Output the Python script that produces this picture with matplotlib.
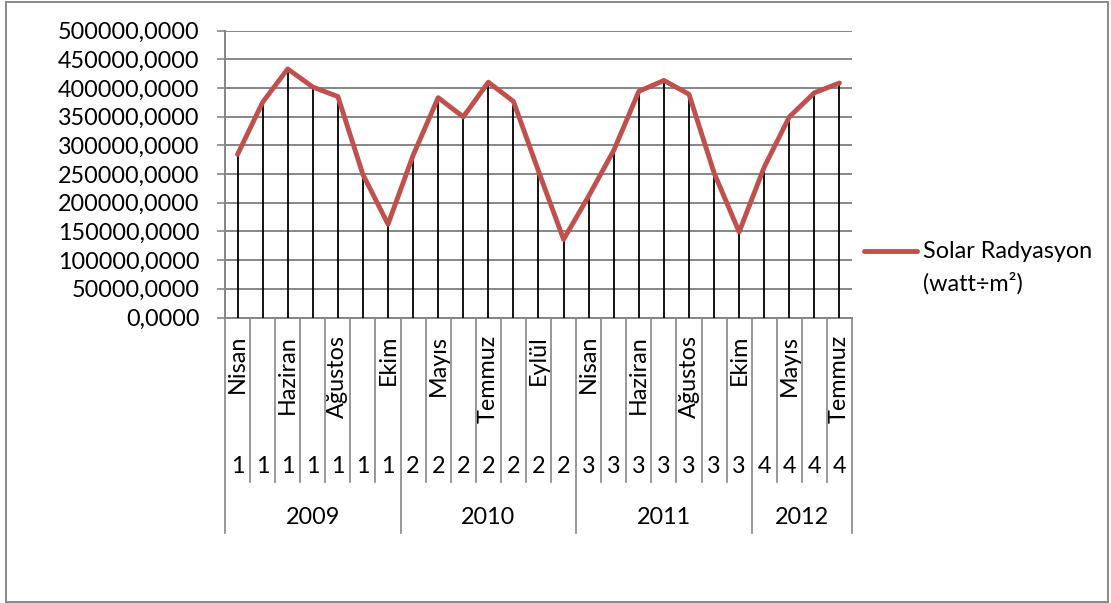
import matplotlib
matplotlib.use("Agg")
import matplotlib.pyplot as plt
from matplotlib.lines import Line2D
from matplotlib.patches import Rectangle
from matplotlib.transforms import blended_transform_factory

plt.rcParams['font.family'] = ['Lato', 'DejaVu Sans']

# Monthly solar radiation, April-October of each year
years = ["2009", "2010", "2011", "2012"]
year_codes = ["1", "2", "3", "4"]
months_per_year = [
    ["Nisan", "Mayıs", "Haziran", "Temmuz", "Ağustos", "Eylül", "Ekim"],
    ["Nisan", "Mayıs", "Haziran", "Temmuz", "Ağustos", "Eylül", "Ekim"],
    ["Nisan", "Mayıs", "Haziran", "Temmuz", "Ağustos", "Eylül", "Ekim"],
    ["Nisan", "Mayıs", "Haziran", "Temmuz"],
]
radiation = [
    284000, 375000, 433000, 401500, 385000, 249000, 162500,
    282500, 383000, 349500, 410000, 376500, 255000, 136000,
    211500, 291000, 394000, 413000, 389000, 252000, 149000,
    262000, 349500, 391500, 408500,
]
series_label = "Solar Radyasyon\n(watt÷m²)"
y_ticks = list(range(0, 500001, 50000))

W, H = 1111, 603
FS = 16.8
fig = plt.figure(figsize=(W / 100, H / 100), dpi=100)
fig.patch.set_facecolor("white")


def fy(py):
    return 1 - py / H


def fx(px):
    return px / W


ax_left, ax_right, ax_top, ax_bottom = 225, 852, 30.5, 317.5
ax = fig.add_axes([fx(ax_left), fy(ax_bottom), (ax_right - ax_left) / W,
                   (ax_bottom - ax_top) / H])

n = len(radiation)
xs = list(range(n))
grid_col = "#868686"
red = "#C0504D"

ax.set_xlim(-0.5, n - 0.5)
ax.set_ylim(0, 500000)
ax.set_yticks(y_ticks)
ax.set_yticklabels([f"{v:.4f}".replace(".", ",") for v in y_ticks])
ax.yaxis.grid(True, color=grid_col, lw=1.4)
ax.set_axisbelow(True)
ax.tick_params(axis="y", length=6, width=1.2, color=grid_col, pad=12.5,
               labelsize=FS, labelcolor="black")
ax.set_xticks([])
for s in ["top", "right"]:
    ax.spines[s].set_visible(False)
for s in ["left", "bottom"]:
    ax.spines[s].set_color(grid_col)
    ax.spines[s].set_linewidth(1.4)

# drop lines and the series
ax.vlines(xs, 0, radiation, color="black", lw=1.3, zorder=3)
ax.plot(xs, radiation, color=red, lw=3.5, solid_joinstyle="round",
        solid_capstyle="round", zorder=4, clip_on=False)

# multi-level category axis
tr = blended_transform_factory(ax.transData, fig.transFigure)
months = [m for grp in months_per_year for m in grp]
codes = [year_codes[g] for g, grp in enumerate(months_per_year) for _ in grp]

group_edges = [0]
for grp in months_per_year:
    group_edges.append(group_edges[-1] + len(grp))

for b in range(n + 1):
    bottom = 532.7 if b in group_edges else 482
    ax.plot([b - 0.5, b - 0.5], [fy(ax_bottom), fy(bottom)], transform=tr,
            color=grid_col, lw=1.2, clip_on=False)

for i, m in enumerate(months):
    if i % 2 == 0:
        ax.text(i, fy(335), m, transform=tr, rotation=90, ha="center",
                va="top", fontsize=FS)
    ax.text(i, fy(466.5), codes[i], transform=tr, ha="center",
            va="center", fontsize=FS)

for g, yr in enumerate(years):
    mid = (group_edges[g] + group_edges[g + 1]) / 2 - 0.5
    ax.text(mid, fy(517), yr, transform=tr, ha="center", va="center",
            fontsize=FS)

# legend
fig.add_artist(Line2D([fx(864), fx(917)], [fy(251.5), fy(251.5)],
                      color=red, lw=3.5, solid_capstyle="round"))
fig.text(fx(923), fy(251.5), series_label.split("\n")[0], ha="left",
         va="center", fontsize=FS)
fig.text(fx(923), fy(283.5), series_label.split("\n")[1], ha="left",
         va="center", fontsize=FS)

# chart area border
fig.add_artist(Rectangle((fx(6), fy(601.5)), fx(1108) - fx(6),
                         fy(2) - fy(601.5), transform=fig.transFigure,
                         fill=False, edgecolor="#888888", lw=1.4))

fig.savefig("out.png", dpi=100, facecolor="white")
